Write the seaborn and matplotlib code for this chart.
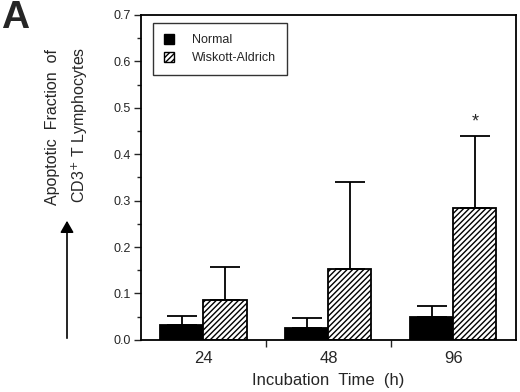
import matplotlib
matplotlib.use("Agg")
import matplotlib.pyplot as plt
import seaborn as sns
import pandas as pd
import numpy as np
from matplotlib.ticker import FixedLocator
from matplotlib.patches import Patch, FancyArrowPatch

times = ["24", "48", "96"]
groups = ["Normal", "Wiskott-Aldrich"]
normal_mean = [0.032, 0.026, 0.049]
normal_err = [0.020, 0.021, 0.024]
wa_mean = [0.085, 0.153, 0.283]
wa_err = [0.073, 0.188, 0.157]
y_ticks = [0.0, 0.1, 0.2, 0.3, 0.4, 0.5, 0.6, 0.7]

sns.set_theme(style="ticks")
plt.rcParams['font.family'] = ['Liberation Sans', 'DejaVu Sans']

df = pd.DataFrame({
    "time": times * 2,
    "group": [groups[0]] * 3 + [groups[1]] * 3,
    "value": normal_mean + wa_mean,
})

fig = plt.figure(figsize=(5.2, 3.92), dpi=100)
ax = fig.add_axes([0.271, 0.133, 0.721, 0.829])

sns.barplot(data=df, x="time", y="value", hue="group", order=times,
            hue_order=groups, palette=["black", "white"], width=0.69,
            gap=0, errorbar=None, edgecolor="black", linewidth=1.3,
            saturation=1, ax=ax, legend=False)

errs = normal_err + wa_err
means = normal_mean + wa_mean
patches = ax.patches[:6]
for i, p in enumerate(patches):
    if i >= 3:
        p.set_hatch("//////")
    cx = p.get_x() + p.get_width() / 2
    ax.errorbar([cx], [means[i]], yerr=[[0], [errs[i]]], fmt="none",
                ecolor="black", elinewidth=1.3, capsize=11, capthick=1.3,
                zorder=1)

p = patches[5]
ax.text(p.get_x() + p.get_width() / 2, wa_mean[2] + wa_err[2] + 0.01, "*",
        ha="center", va="bottom", fontsize=13)

ax.set_ylim(0, 0.7)
ax.set_xlim(-0.5, 2.5)
ax.set_yticks(y_ticks)
ax.set_yticklabels([f"{v:.1f}" for v in y_ticks])
ax.yaxis.set_minor_locator(FixedLocator([v + 0.05 for v in y_ticks[:-1]]))
ax.tick_params(axis="y", which="major", direction="out", length=5, width=1,
               labelsize=9, pad=2)
ax.tick_params(axis="y", which="minor", direction="out", length=3, width=1)

ax.set_xticks([0, 1, 2])
ax.set_xticklabels(times)
ax.xaxis.set_minor_locator(FixedLocator([0.5, 1.5]))
ax.tick_params(axis="x", which="major", length=0, labelsize=12, pad=8)
ax.tick_params(axis="x", which="minor", direction="out", length=5, width=1)

for s in ax.spines.values():
    s.set_linewidth(1.3)
    s.set_color("black")

ax.set_xlabel("Incubation  Time  (h)", fontsize=12, labelpad=5)
ax.set_ylabel("")

handles = [Patch(facecolor="black", edgecolor="black"),
           Patch(facecolor="white", edgecolor="black", hatch="//////")]
leg = ax.legend(handles, groups, loc="upper left", bbox_to_anchor=(0.032, 0.975),
                frameon=True, fancybox=False, fontsize=9, handlelength=0.8,
                handleheight=0.8, handletextpad=1.4, borderpad=0.9,
                labelspacing=0.45, borderaxespad=0)
leg.get_frame().set_edgecolor("black")
leg.get_frame().set_linewidth(1.0)

fig.text(53 / 520, 1 - 127 / 392, "Apoptotic  Fraction  of", rotation=90,
         ha="center", va="center", fontsize=11.5)
fig.text(80 / 520, 1 - 125 / 392, "CD3$^{+}$ T Lymphocytes", rotation=90,
         ha="center", va="center", fontsize=11.5)
fig.patches.append(FancyArrowPatch(
    (67 / 520, 1 - 341 / 392), (67 / 520, 1 - 218 / 392),
    transform=fig.transFigure, arrowstyle="-|>,head_length=7,head_width=4",
    color="black", linewidth=1.2, mutation_scale=1))

fig.text(1 / 520, 1 - 0 / 392, "A", fontsize=28, fontweight="bold",
         ha="left", va="top")

fig.savefig("out.png", dpi=100)
